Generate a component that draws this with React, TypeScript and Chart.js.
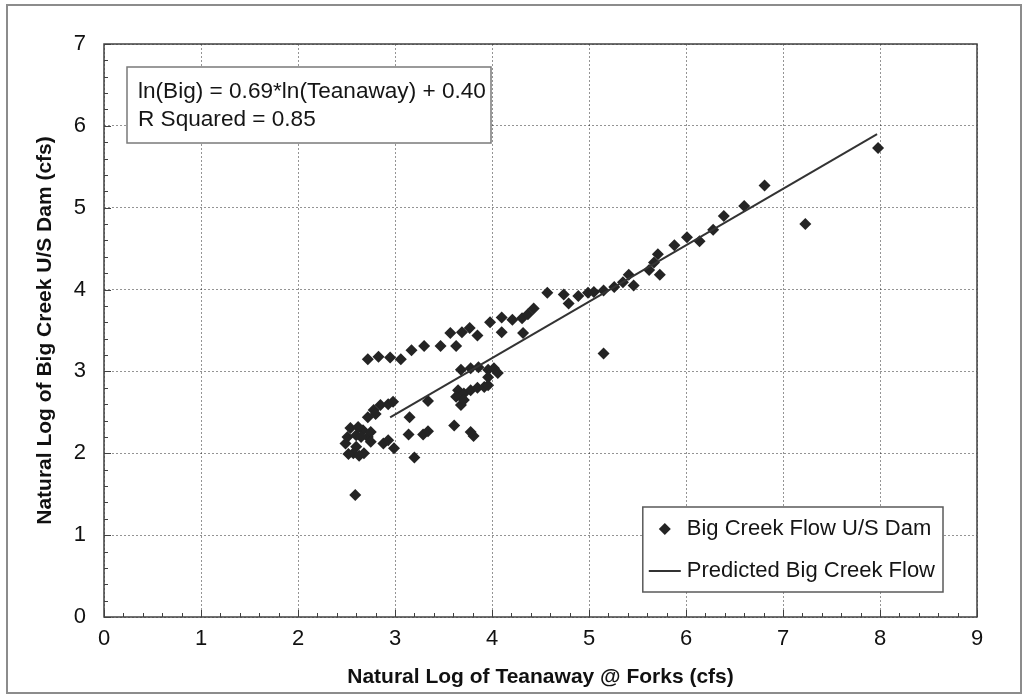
import React, { useEffect, useRef } from 'react';
import { Chart, registerables } from 'chart.js';

Chart.register(...registerables);

// ---- data ----
const observedX = [
  2.72, 2.83, 2.95, 3.06, 3.17, 3.30, 3.47, 3.63, 3.57, 3.69, 3.77, 3.85, 3.98, 4.10, 4.10, 4.21, 4.31, 4.37, 4.43, 4.32,
  4.57, 4.74, 4.79, 4.89, 4.99, 5.05, 5.15, 5.26, 5.35, 5.46, 5.41, 5.15, 5.62, 5.67, 5.73, 5.71, 5.88, 6.01, 6.14, 6.28,
  6.39, 6.60, 6.81, 7.23, 7.98,
  3.68, 3.78, 3.86, 3.96, 4.02, 4.06, 3.96, 3.65, 3.71, 3.68, 3.78, 3.85, 3.92, 3.63, 3.71, 3.96,
  3.15, 3.14, 3.29, 3.34, 3.20, 3.61, 3.81, 3.78, 3.34,
  2.51, 2.60, 2.54, 2.67, 2.72, 2.60, 2.68, 2.57, 2.49, 2.75, 2.62, 2.65, 2.63, 2.52,
  2.78, 2.85, 2.93, 2.98, 2.72, 2.88, 2.93, 2.75, 2.99, 2.80,
  2.59,
];
const observedY = [
  3.15, 3.18, 3.17, 3.15, 3.26, 3.31, 3.31, 3.31, 3.47, 3.48, 3.53, 3.44, 3.60, 3.66, 3.48, 3.63, 3.65, 3.70, 3.77, 3.47,
  3.96, 3.94, 3.83, 3.92, 3.96, 3.97, 3.99, 4.03, 4.09, 4.05, 4.18, 3.22, 4.24, 4.33, 4.18, 4.43, 4.54, 4.64, 4.59, 4.73,
  4.90, 5.02, 5.27, 4.80, 5.73,
  3.02, 3.04, 3.05, 3.02, 3.04, 2.98, 2.93, 2.77, 2.73, 2.59, 2.77, 2.80, 2.81, 2.69, 2.65, 2.83,
  2.44, 2.23, 2.23, 2.27, 1.95, 2.34, 2.21, 2.26, 2.64,
  2.20, 2.22, 2.31, 2.28, 2.20, 2.08, 2.00, 2.00, 2.12, 2.26, 2.32, 2.20, 1.97, 1.99,
  2.53, 2.59, 2.60, 2.63, 2.44, 2.12, 2.16, 2.14, 2.06, 2.48,
  1.49,
];
const predictedX = [2.95, 7.97];
const predictedY = [2.44, 5.90];

const xTickValues = [0, 1, 2, 3, 4, 5, 6, 7, 8, 9];
const yTickValues = [0, 1, 2, 3, 4, 5, 6, 7];

const xTitle = 'Natural Log of Teanaway @ Forks (cfs)';
const yTitle = 'Natural Log of Big Creek U/S Dam (cfs)';
const annotationLines = ['ln(Big) = 0.69*ln(Teanaway) + 0.40', 'R Squared = 0.85'];
const legendLabels = ['Big Creek Flow U/S Dam', 'Predicted Big Creek Flow'];

const FAMILY = '"Liberation Sans", Arial, Helvetica, sans-serif';
const MARK = '#242424';
const LINE = '#333333';

const decorPlugin = {
  id: 'decor',
  beforeDraw(chart: any) {
    const { ctx, width, height } = chart;
    ctx.save();
    ctx.fillStyle = '#ffffff';
    ctx.fillRect(0, 0, width, height);
    ctx.restore();
  },
  afterDraw(chart: any) {
    const { ctx, chartArea: a, scales } = chart;
    const xs = scales.x;
    const ys = scales.y;
    ctx.save();

    // outer frame
    ctx.strokeStyle = '#8c8c8c';
    ctx.lineWidth = 2;
    ctx.strokeRect(7, 5, 1014, 688);

    // plot border
    ctx.strokeStyle = '#404040';
    ctx.lineWidth = 1.5;
    ctx.strokeRect(a.left, a.top, a.right - a.left, a.bottom - a.top);

    // inward tick marks (major every 1, minor every 0.2)
    ctx.lineWidth = 1;
    ctx.strokeStyle = '#404040';
    const xMax = xTickValues[xTickValues.length - 1];
    const yMax = yTickValues[yTickValues.length - 1];
    for (let i = 0; i <= xMax * 5; i++) {
      const px = Math.round(xs.getPixelForValue(i / 5)) + 0.5;
      const len = i % 5 === 0 ? 7 : 4;
      ctx.beginPath();
      ctx.moveTo(px, a.bottom);
      ctx.lineTo(px, a.bottom - len);
      ctx.stroke();
    }
    for (let i = 0; i <= yMax * 5; i++) {
      const py = Math.round(ys.getPixelForValue(i / 5)) + 0.5;
      const len = i % 5 === 0 ? 7 : 4;
      ctx.beginPath();
      ctx.moveTo(a.left, py);
      ctx.lineTo(a.left + len, py);
      ctx.stroke();
    }

    // annotation box
    const ax = a.left + 23;
    const ay = a.top + 23;
    const aw = 364;
    const ah = 76;
    ctx.fillStyle = '#ffffff';
    ctx.fillRect(ax, ay, aw, ah);
    ctx.strokeStyle = '#7a7a7a';
    ctx.lineWidth = 1.5;
    ctx.strokeRect(ax, ay, aw, ah);
    ctx.fillStyle = '#151515';
    ctx.font = `22.6px ${FAMILY}`;
    ctx.textAlign = 'left';
    ctx.textBaseline = 'middle';
    ctx.fillText(annotationLines[0], ax + 11, ay + 25);
    ctx.fillText(annotationLines[1], ax + 11, ay + 53);

    // legend box
    ctx.font = `22px ${FAMILY}`;
    const maxW = Math.max(...legendLabels.map((t) => ctx.measureText(t).width));
    const boxRight = a.right - 34;
    const boxTop = a.bottom - 110;
    const boxBottom = a.bottom - 25;
    const textX = boxRight - 8 - maxW;
    const boxLeft = textX - 44;
    ctx.fillStyle = '#ffffff';
    ctx.fillRect(boxLeft, boxTop, boxRight - boxLeft, boxBottom - boxTop);
    ctx.strokeStyle = '#5a5a5a';
    ctx.lineWidth = 1.5;
    ctx.strokeRect(boxLeft, boxTop, boxRight - boxLeft, boxBottom - boxTop);
    const row1 = boxTop + 22;
    const row2 = boxTop + 64;
    // marker sample
    const mx = textX - 22;
    const r = 6;
    ctx.fillStyle = MARK;
    ctx.beginPath();
    ctx.moveTo(mx - r, row1);
    ctx.lineTo(mx, row1 - r);
    ctx.lineTo(mx + r, row1);
    ctx.lineTo(mx, row1 + r);
    ctx.closePath();
    ctx.fill();
    // line sample
    ctx.strokeStyle = LINE;
    ctx.lineWidth = 2;
    ctx.beginPath();
    ctx.moveTo(textX - 38, row2);
    ctx.lineTo(textX - 6, row2);
    ctx.stroke();
    ctx.fillStyle = '#151515';
    ctx.textBaseline = 'middle';
    ctx.fillText(legendLabels[0], textX, row1);
    ctx.fillText(legendLabels[1], textX, row2);

    ctx.restore();
  },
};

export default function App() {
  const canvasRef = useRef<HTMLCanvasElement | null>(null);

  useEffect(() => {
    const canvas = canvasRef.current;
    if (!canvas) return;
    const observed = observedX.map((x, i) => ({ x, y: observedY[i] }));
    const predicted = predictedX.map((x, i) => ({ x, y: predictedY[i] }));

    const chart = new Chart(canvas, {
      type: 'scatter',
      data: {
        datasets: [
          {
            label: legendLabels[1],
            data: predicted,
            showLine: true,
            borderColor: LINE,
            borderWidth: 2,
            pointRadius: 0,
            fill: false,
          },
          {
            label: legendLabels[0],
            data: observed,
            pointStyle: 'rectRot',
            pointRadius: 6,
            backgroundColor: MARK,
            borderColor: MARK,
            borderWidth: 0,
          },
        ],
      },
      options: {
        animation: false,
        responsive: false,
        maintainAspectRatio: false,
        devicePixelRatio: 1,
        layout: { padding: { left: 0, right: 52, top: 44, bottom: 0 } },
        plugins: {
          legend: { display: false },
          tooltip: { enabled: false },
        },
        scales: {
          x: {
            type: 'linear',
            min: xTickValues[0],
            max: xTickValues[xTickValues.length - 1],
            afterBuildTicks: (s: any) => {
              s.ticks = xTickValues.map((v) => ({ value: v }));
            },
            ticks: {
              stepSize: 1,
              color: '#111111',
              font: { size: 22, family: FAMILY },
              padding: 9,
              maxRotation: 0,
            },
            grid: { color: 'rgba(0,0,0,0.42)', lineWidth: 1, drawTicks: false },
            border: { display: false, dash: [2, 2] },
            title: {
              display: true,
              text: xTitle,
              color: '#111111',
              font: { size: 21, weight: 'bold', family: FAMILY },
              padding: { top: 0, bottom: 8 },
            },
            afterFit: (s: any) => {
              s.height = 81;
            },
          },
          y: {
            type: 'linear',
            min: yTickValues[0],
            max: yTickValues[yTickValues.length - 1],
            afterBuildTicks: (s: any) => {
              s.ticks = yTickValues.map((v) => ({ value: v }));
            },
            ticks: {
              stepSize: 1,
              color: '#111111',
              font: { size: 22, family: FAMILY },
              padding: 18,
            },
            grid: { color: 'rgba(0,0,0,0.42)', lineWidth: 1, drawTicks: false },
            border: { display: false, dash: [2, 2] },
            title: {
              display: true,
              text: yTitle,
              color: '#111111',
              font: { size: 21, weight: 'bold', family: FAMILY },
              padding: { top: 33, bottom: 0 },
            },
            afterFit: (s: any) => {
              s.width = 104;
            },
          },
        },
      } as any,
      plugins: [decorPlugin],
    });

    return () => {
      chart.destroy();
    };
  }, []);

  return (
    <div style={{ position: 'absolute', left: 0, top: 0, width: 1029, height: 698, background: '#ffffff' }}>
      <canvas ref={canvasRef} width={1029} height={698} style={{ display: 'block', width: 1029, height: 698 }} />
    </div>
  );
}
